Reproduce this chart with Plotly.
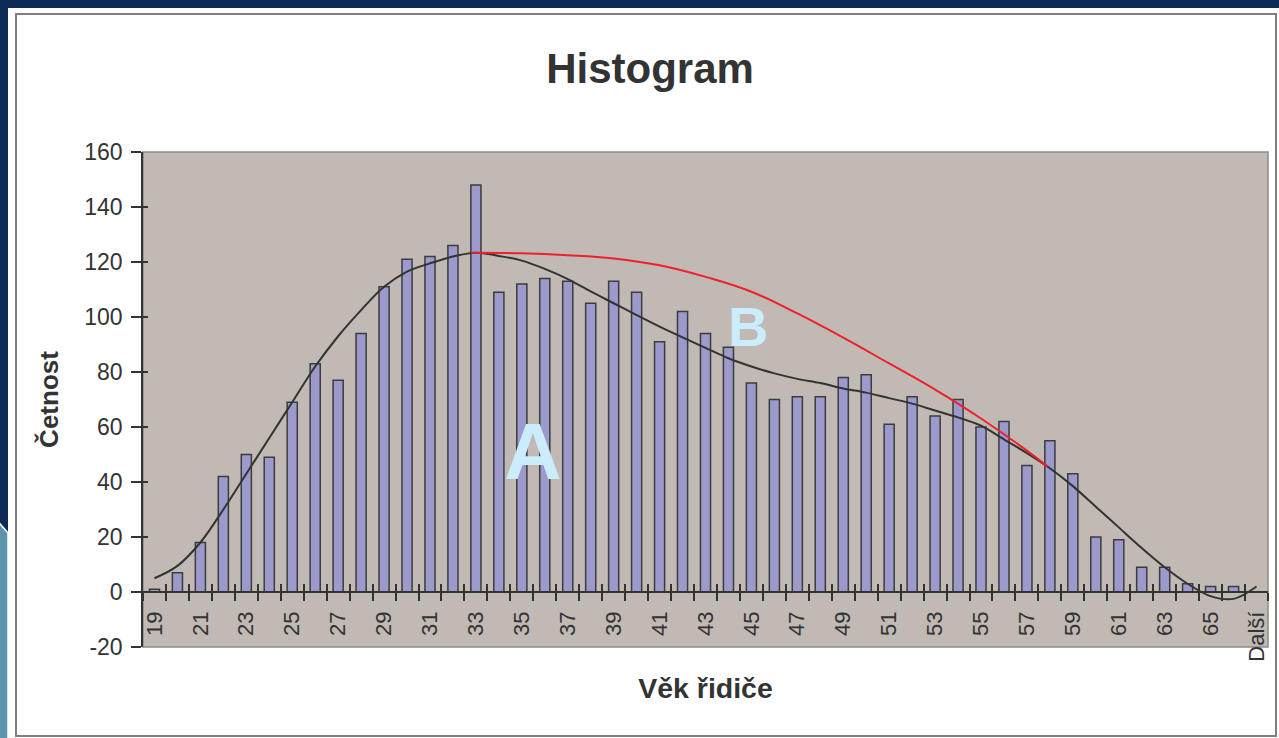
import plotly.graph_objects as go

# ---------------- data ----------------
categories = [str(a) for a in range(19, 67)] + ["Další"]
counts = [1, 7, 18, 42, 50, 49, 69, 83, 77, 94,
          111, 121, 122, 126, 148, 109, 112, 114, 113, 105,
          113, 109, 91, 102, 94, 89, 76, 70, 71, 71,
          78, 79, 61, 71, 64, 70, 60, 62, 46, 55,
          43, 20, 19, 9, 9, 3, 2, 2, 0]
trend = [5, 9.5, 18, 30, 43, 56, 69, 82, 93, 102.5,
         111, 116.5, 119.5, 122, 123.4, 122.2, 120.5, 117.5, 113.8, 109.3,
         105, 100.7, 96.5, 92.6, 88.8, 85, 82, 79.5, 77.5, 76,
         74, 72.5, 70.5, 68.5, 66, 63.5, 60.5, 55.5, 50.5, 45,
         38.5, 31, 23.5, 16, 9, 3, -1.5, -2.5, 2]
red_age = [32.8, 35, 37, 39, 41, 43, 45, 47, 49, 51, 53, 55, 57, 57.9]
red_val = [123.4, 123.2, 122.5, 121.3, 118.8, 114.6, 109.2, 101.3, 92.5, 83.1, 73.6, 63.1, 51.4, 45.6]
y_ticks = [-20, 0, 20, 40, 60, 80, 100, 120, 140, 160]

idx = list(range(len(categories)))
red_idx = [a - 19 for a in red_age]

W, H = 1279, 738
L, R, T, B = 143, 11, 152, 91
PW, PH = W - L - R, H - T - B


def px(x):
    return (x - L) / PW


def py(y):
    return (H - B - y) / PH


FONT = "Liberation Sans, Arial, sans-serif"
TXT = "#333333"
ZERO_POS = (0 - y_ticks[0]) / (y_ticks[-1] - y_ticks[0])
XR = [-0.5, len(categories) - 0.5]
YR = [y_ticks[0], y_ticks[-1]]

fig = go.Figure()
fig.add_trace(go.Bar(x=idx, y=counts, width=0.44,
                     marker=dict(color="#9c99cc", line=dict(color="#3c3c3c", width=1.5)),
                     xaxis="x", yaxis="y", showlegend=False))
fig.add_trace(go.Scatter(x=idx, y=trend, mode="lines",
                         line=dict(color="#333333", width=2, shape="spline", smoothing=1.0),
                         xaxis="x2", yaxis="y", showlegend=False))
fig.add_trace(go.Scatter(x=red_idx, y=red_val, mode="lines",
                         line=dict(color="#f0202a", width=2, shape="spline", smoothing=1.2),
                         xaxis="x3", yaxis="y", showlegend=False))
fig.add_trace(go.Scatter(x=[None], y=[None], xaxis="x", yaxis="y2", showlegend=False))

label_vals = idx[::2]
label_text = categories[::2]
boundaries = [i - 0.5 for i in range(len(categories) + 1)]

common_x = dict(range=XR, anchor="free", position=ZERO_POS, showgrid=False, zeroline=False)
fig.update_layout(
    width=W, height=H,
    margin=dict(l=L, r=R, t=T, b=B, autoexpand=False),
    paper_bgcolor="#0c2c57",
    plot_bgcolor="#c0b9b4",
    font=dict(family=FONT, color=TXT),
    title=dict(text="<b>Histogram</b>", x=650 / W, xanchor="center", xref="container",
               y=1 - 68 / H, yanchor="middle", yref="container",
               font=dict(size=42, color=TXT, family=FONT)),
    bargap=0.5,
    xaxis=dict(**common_x, tickmode="array", tickvals=label_vals, ticktext=label_text,
               tickangle=-90, ticks="outside", ticklen=10, tickcolor="rgba(0,0,0,0)",
               tickfont=dict(size=22, color=TXT), showline=True, linecolor="#333333", linewidth=1.5,
               title=dict(text="<b>Věk řidiče</b>", font=dict(size=28.5, color=TXT), standoff=16)),
    xaxis2=dict(**common_x, overlaying="x", tickmode="array", tickvals=boundaries,
                ticks="outside", ticklen=8, tickwidth=1.5, tickcolor="#333333",
                showticklabels=False, showline=False),
    xaxis3=dict(**common_x, overlaying="x", tickmode="array", tickvals=boundaries,
                ticks="inside", ticklen=8, tickwidth=1.5, tickcolor="#333333",
                showticklabels=False, showline=False),
    yaxis=dict(range=YR, tickmode="array", tickvals=y_ticks, ticktext=[str(v) for v in y_ticks],
               ticks="outside", ticklen=10, ticklabelstandoff=4,
               tickwidth=1.5, tickcolor="#333333", showline=True, linecolor="#333333", linewidth=1.5,
               showgrid=False, zeroline=False, tickfont=dict(size=23, color=TXT),
               title=dict(text="<b>Četnost</b>", font=dict(size=26, color=TXT), standoff=18)),
    yaxis2=dict(range=YR, overlaying="y", side="left", tickmode="array", tickvals=y_ticks,
                ticks="inside", ticklen=5, tickwidth=1.5, tickcolor="#333333",
                showticklabels=False, showline=False, showgrid=False, zeroline=False),
)

shapes = [
    # white slide panel
    dict(type="rect", xref="paper", yref="paper", x0=px(8), x1=px(W + 20), y0=py(H + 20), y1=py(8),
         fillcolor="white", line=dict(width=0), layer="below"),
    # light-blue slide decoration at left
    dict(type="path", xref="paper", yref="paper",
         path=f"M {px(-5)},{py(518)} L {px(8)},{py(533)} L {px(8)},{py(H + 20)} L {px(-5)},{py(H + 20)} Z",
         fillcolor="#5c94ae", line=dict(color="white", width=1.5), layer="below"),
    # chart border
    dict(type="rect", xref="paper", yref="paper", x0=px(16), x1=px(1276), y0=py(736), y1=py(14),
         fillcolor="rgba(0,0,0,0)", line=dict(color="#7f7f7f", width=2), layer="below"),
    # plot area background
    dict(type="rect", xref="paper", yref="paper", x0=0, x1=1, y0=0, y1=1,
         fillcolor="#c0b9b4", line=dict(color="#8f8a86", width=1.5), layer="below"),
]
fig.update_layout(shapes=shapes)

fig.add_annotation(x=16.5, y=51, xref="x", yref="y", text="<b>A</b>", showarrow=False,
                   font=dict(size=80, color="#cbecfa", family=FONT), xanchor="center", yanchor="middle")
fig.add_annotation(x=25.85, y=96.5, xref="x", yref="y", text="<b>B</b>", showarrow=False,
                   font=dict(size=56, color="#cbecfa", family=FONT), xanchor="center", yanchor="middle")

fig.write_html("out.html", config={"displayModeBar": False},
               post_script="document.body.style.margin='0';document.body.style.overflow='hidden';")
